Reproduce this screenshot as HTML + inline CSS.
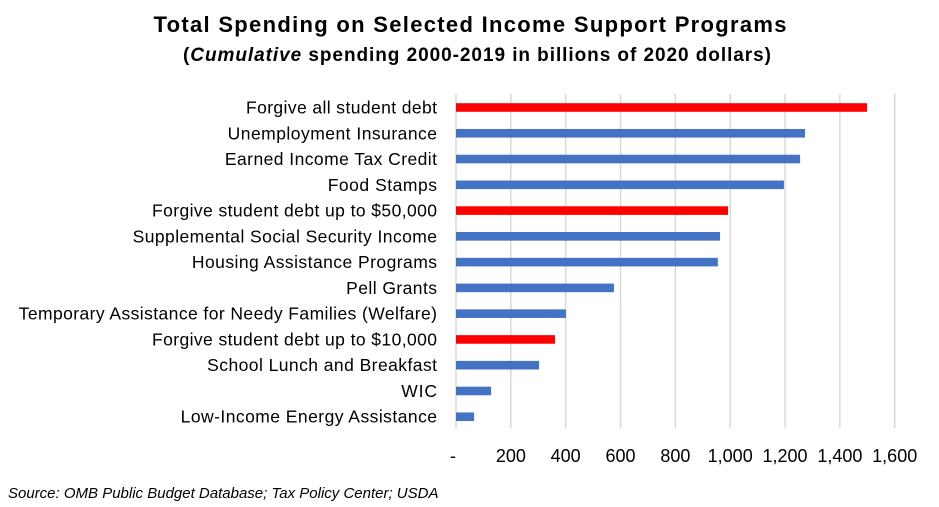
<!DOCTYPE html>
<html><head><meta charset="utf-8"><style>
body{margin:0;background:#fff;}
svg text{font-family:"Liberation Sans",Arial,sans-serif;}
</style></head><body>
<svg id="chart" width="939" height="502" xmlns="http://www.w3.org/2000/svg">
<text x="470" y="32" text-anchor="middle" font-size="22" font-weight="bold" fill="#000" textLength="633" lengthAdjust="spacing">Total Spending on Selected Income Support Programs</text>
<text x="477" y="61" text-anchor="middle" font-size="19" font-weight="bold" fill="#000" textLength="588" lengthAdjust="spacing">(<tspan font-style="italic">Cumulative</tspan> spending 2000-2019 in billions of 2020 dollars)</text>
<g id="grid"></g><g id="bars"></g><g id="cats"></g><g id="ticks"></g>
<text x="8" y="498" font-size="15" font-style="italic" fill="#000">Source: OMB Public Budget Database; Tax Policy Center; USDA</text>
</svg>
<script>
const categories=["Forgive all student debt","Unemployment Insurance","Earned Income Tax Credit","Food Stamps","Forgive student debt up to $50,000","Supplemental Social Security Income","Housing Assistance Programs","Pell Grants","Temporary Assistance for Needy Families (Welfare)","Forgive student debt up to $10,000","School Lunch and Breakfast","WIC","Low-Income Energy Assistance"];
const values=[1499,1273,1255,1196,992,963,955,576,401,361,303,128,66];
const highlight=[true,false,false,false,true,false,false,false,false,true,false,false,false];
const tickValues=[0,200,400,600,800,1000,1200,1400,1600];
const tickLabels=["-","200","400","600","800","1,000","1,200","1,400","1,600"];
const NS="http://www.w3.org/2000/svg";
const x=v=>456+v*(438.7/1600);
const y=i=>107.5+i*25.77;
function mk(t,a,p){const e=document.createElementNS(NS,t);for(const k in a)e.setAttribute(k,a[k]);p.appendChild(e);return e;}
const G=document.getElementById('grid'),B=document.getElementById('bars'),C=document.getElementById('cats'),T=document.getElementById('ticks');
tickValues.forEach((v,i)=>{
 const l=mk('line',{x1:x(v),x2:x(v),y1:94,y2:428,stroke:'#d9d9d9','stroke-width':1.5},G);
 
 
 const t=mk('text',{x:x(v)+(i==0?-3:0),y:462,'text-anchor':'middle','font-size':18,fill:'#000'},T);
 t.textContent=tickLabels[i];
 
 
});
categories.forEach((c,i)=>{
 const r=mk('rect',{x:x(0),y:y(i)-4.3,width:x(values[i])-x(0),height:8.6,fill:highlight[i]?'#ff0000':'#4472c4'},B);
 
 
 const t=mk('text',{x:437,y:y(i)+6,'text-anchor':'end','font-size':17.5,fill:'#000'},C);
 t.textContent=c;
 
 
 const w=t.getComputedTextLength();
 t.setAttribute('textLength',w*1.05);
 t.setAttribute('lengthAdjust','spacing');
});
</script>
</body></html>
